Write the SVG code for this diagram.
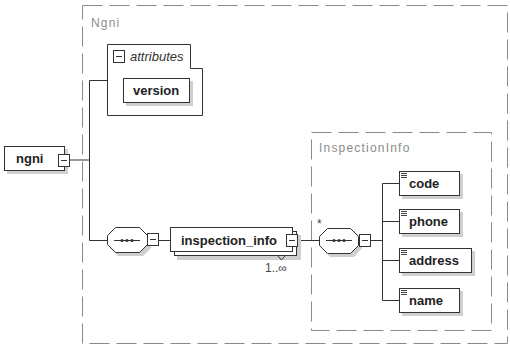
<svg xmlns="http://www.w3.org/2000/svg" width="510" height="353" viewBox="0 0 510 353">
<defs>
<style>
.dash{fill:none;stroke:#8a8a8a;stroke-width:1;stroke-dasharray:20 7}
.lbl{font-family:"Liberation Sans",Arial,sans-serif;font-size:12px;fill:#8c8c8c;letter-spacing:1.2px}
.box{fill:#fff;stroke:#333;stroke-width:1}
.shd{fill:#cfcfcf;stroke:none}
.t{font-family:"Liberation Sans",Arial,sans-serif;font-size:13px;font-weight:bold;fill:#222}
.it{font-family:"Liberation Sans",Arial,sans-serif;font-size:13px;font-style:italic;fill:#333}
.ln{fill:none;stroke:#333;stroke-width:1}
.mb{fill:#fff;stroke:#333;stroke-width:1}
.small{font-family:"Liberation Sans",Arial,sans-serif;font-size:12px;fill:#444}
</style>
<g id="minus">
<rect class="mb" x="0" y="0" width="11" height="12"/>
<line x1="2.5" y1="6" x2="8.5" y2="6" stroke="#333" stroke-width="1"/>
</g>
<g id="seqicon">
<line x1="7" y1="0" x2="33" y2="0" stroke="#333" stroke-width="1"/>
<circle cx="15" cy="0" r="1.6" fill="#333"/>
<circle cx="20" cy="0" r="1.6" fill="#333"/>
<circle cx="25" cy="0" r="1.6" fill="#333"/>
</g>
<g id="simple">
<line x1="0" y1="0.5" x2="6" y2="0.5" stroke="#444" stroke-width="1"/>
<line x1="0" y1="2.5" x2="6" y2="2.5" stroke="#444" stroke-width="1"/>
<line x1="0" y1="4.5" x2="6" y2="4.5" stroke="#444" stroke-width="1"/>
</g>
</defs>
<rect width="510" height="353" fill="#fff"/>

<g id="type-Ngni">
<rect class="dash" x="82.5" y="5.5" width="425" height="338"/>
<text class="lbl" x="91" y="27">Ngni</text>
</g>

<g id="type-InspectionInfo">
<rect class="dash" x="311.5" y="132.5" width="180" height="198"/>
<text class="lbl" x="319" y="152">InspectionInfo</text>
</g>

<g id="connectors">
<polyline class="ln" points="69,160 89.5,160"/>
<polyline class="ln" points="107,80.5 89.5,80.5 89.5,240.5 107,240.5"/>
<polyline class="ln" points="158,240.5 171,240.5"/>
<polyline class="ln" points="297,240.5 319,240.5"/>
<polyline class="ln" points="370,240.5 382.5,240.5"/>
<polyline class="ln" points="399,183.5 382.5,183.5 382.5,300.5 399,300.5"/>
<polyline class="ln" points="382.5,221.5 399,221.5"/>
<polyline class="ln" points="382.5,260.5 399,260.5"/>
</g>

<g id="ngni">
<rect class="shd" x="7" y="149" width="61" height="25"/>
<rect class="box" x="4.5" y="146.5" width="60" height="24"/>
<text class="t" x="16" y="163">ngni</text>
<use href="#minus" x="58.5" y="154.5"/>
</g>

<g id="attributes">
<path class="box" d="M107.5,44.5 H190.5 V68.5 H202.5 V115.5 H107.5 Z"/>
<use href="#minus" x="113.5" y="50.5"/>
<text class="it" x="130" y="61">attributes</text>
</g>

<g id="version">
<rect class="shd" x="126" y="81" width="67" height="25"/>
<rect class="box" x="123.5" y="78.5" width="66" height="24"/>
<text class="t" x="133" y="95">version</text>
</g>

<g id="sequence1">
<path class="shd" d="M118,231 H143 L151,239 V248 L143,256 H118 L110,248 V239 Z"/>
<path class="box" d="M115.5,227.5 H139.5 L147.5,235.5 V244.5 L139.5,252.5 H115.5 L107.5,244.5 V235.5 Z"/>
<use href="#seqicon" x="107" y="240.5"/>
<use href="#minus" x="147.5" y="233.5"/>
</g>

<g id="inspection_info">
<rect class="shd" x="177" y="235" width="124" height="25"/>
<rect class="box" x="174.5" y="231.5" width="122" height="24"/>
<rect class="box" x="170.5" y="227.5" width="122" height="24"/>
<text class="t" x="181" y="245">inspection_info</text>
<use href="#minus" x="286.5" y="234.5"/>
<polyline class="ln" points="278,256 281.5,260 285,256"/>
<text class="small" x="265" y="272">1..∞</text>
</g>

<g id="sequence2">
<text class="small" x="317" y="228">*</text>
<path class="shd" d="M330,231 H354 L362,239 V248 L354,257 H330 L322,248 V239 Z"/>
<path class="box" d="M327.5,228.5 H350.5 L358.5,236.5 V245.5 L350.5,253.5 H327.5 L319.5,245.5 V236.5 Z"/>
<use href="#seqicon" x="319" y="240.5"/>
<use href="#minus" x="359.5" y="234.5"/>
</g>

<g id="code">
<rect class="shd" x="402" y="174" width="61" height="25"/>
<rect class="box" x="399.5" y="171.5" width="60" height="24"/>
<use href="#simple" x="401" y="173"/>
<text class="t" x="409" y="188">code</text>
</g>

<g id="phone">
<rect class="shd" x="402" y="212" width="61" height="25"/>
<rect class="box" x="399.5" y="209.5" width="60" height="24"/>
<use href="#simple" x="401" y="211"/>
<text class="t" x="409" y="226">phone</text>
</g>

<g id="address">
<rect class="shd" x="402" y="251" width="73" height="25"/>
<rect class="box" x="399.5" y="248.5" width="72" height="24"/>
<use href="#simple" x="401" y="250"/>
<text class="t" x="409" y="265">address</text>
</g>

<g id="name">
<rect class="shd" x="402" y="291" width="61" height="25"/>
<rect class="box" x="399.5" y="288.5" width="60" height="24"/>
<use href="#simple" x="401" y="290"/>
<text class="t" x="409" y="305">name</text>
</g>
</svg>
